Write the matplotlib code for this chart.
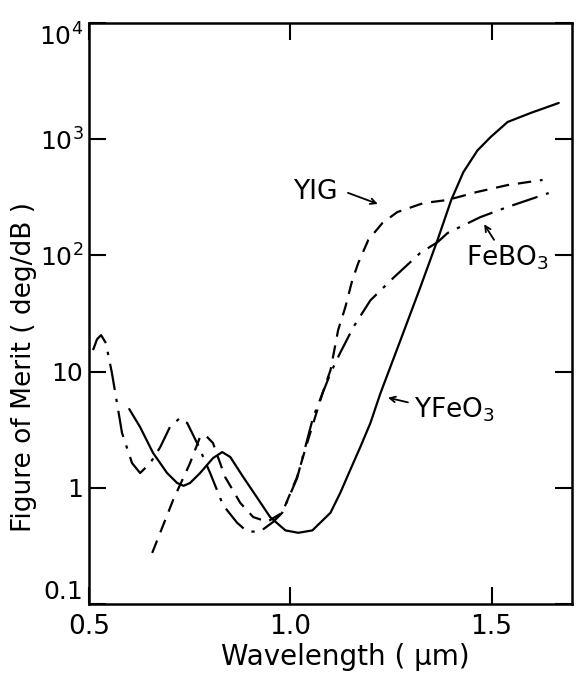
import numpy as np
import matplotlib
matplotlib.use("Agg")
import matplotlib.pyplot as plt

plt.rcParams['font.family'] = ['DejaVu Sans']
plt.rcParams['mathtext.default'] = 'regular'

# YFeO3 (solid)
yfeo3_x = [0.600, 0.627, 0.659, 0.694, 0.719, 0.735, 0.751, 0.776, 0.808, 0.831,
           0.851, 0.883, 0.918, 0.950, 0.988, 1.020, 1.055, 1.100, 1.124, 1.150,
           1.174, 1.199, 1.224, 1.274, 1.323, 1.366, 1.400, 1.430, 1.465, 1.498,
           1.540, 1.597, 1.667]
yfeo3_y = [4.76, 3.33, 2.00, 1.34, 1.10, 1.04, 1.10, 1.34, 1.80, 2.03,
           1.84, 1.24, 0.82, 0.56, 0.43, 0.41, 0.43, 0.61, 0.90, 1.45,
           2.24, 3.6, 6.5, 18.7, 53, 136, 300, 520, 800, 1045,
           1406, 1680, 2050]

# YIG (dashed)
yig_x = [0.657, 0.709, 0.751, 0.776, 0.789, 0.808, 0.838, 0.876, 0.908, 0.943,
         0.980, 1.017, 1.042, 1.080, 1.100, 1.119, 1.137, 1.154, 1.169, 1.194,
         1.229, 1.266, 1.331, 1.391, 1.465, 1.540, 1.627]
yig_y = [0.275, 0.785, 1.63, 2.74, 2.84, 2.43, 1.24, 0.74, 0.56, 0.51,
         0.61, 1.24, 2.43, 6.5, 10.3, 22.8, 36, 61, 86, 136,
         190, 236, 282, 300, 352, 403, 446]

# FeBO3 (dash-dot)
febo3_x = [0.510, 0.520, 0.530, 0.542, 0.557, 0.582, 0.607, 0.627, 0.652, 0.677,
           0.701, 0.726, 0.744, 0.771, 0.801, 0.833, 0.868, 0.893, 0.925, 0.958,
           0.980, 1.017, 1.057, 1.100, 1.124, 1.157, 1.199, 1.256, 1.323, 1.366,
           1.391, 1.473, 1.540, 1.642]
febo3_y = [15.3, 19.0, 20.6, 17.6, 9.7, 2.97, 1.63, 1.34, 1.63, 2.24,
           3.33, 3.99, 3.61, 2.33, 1.34, 0.71, 0.50, 0.42, 0.42, 0.51,
           0.61, 1.21, 4.06, 9.7, 14.5, 24.2, 41, 64, 105, 130,
           156, 214, 261, 344]

x_ticks = [0.5, 1.0, 1.5]
x_tick_labels = ['0.5', '1.0', '1.5']
y_ticks = [0.1, 1, 10, 100, 1000, 10000]
y_tick_labels = ['0.1', '1', '10', '$10^2$', '$10^3$', '$10^4$']

fig = plt.figure(figsize=(5.81, 6.82), dpi=100)
ax = fig.add_axes([89 / 581, 1 - 604 / 682, 483 / 581, 581 / 682])

lw = 1.6
ax.plot(yfeo3_x, yfeo3_y, color='black', lw=lw, solid_capstyle='round',
        solid_joinstyle='round')
ax.plot(yig_x, yig_y, color='black', lw=lw, dashes=(6, 4))
ax.plot(febo3_x, febo3_y, color='black', lw=lw, dashes=(12, 4, 1.5, 4))

ax.set_yscale('log')
ax.set_xlim(0.5, 1.70)
ax.set_ylim(0.1, 1e4)

ax.set_xticks(x_ticks)
ax.set_xticklabels(x_tick_labels, fontsize=19)
ax.set_yticks(y_ticks)
ax.set_yticklabels(y_tick_labels, fontsize=18)
ax.minorticks_off()
ax.tick_params(which='both', direction='in', length=12, width=1.5,
               top=True, right=True)
ax.tick_params(axis='y', pad=4)
ax.tick_params(axis='x', pad=7)
# corner labels: lift 0.1 above the x labels, keep 10^4 inside the figure
ylabels = ax.get_yticklabels()
ylabels[0].set_va('bottom')
ylabels[-1].set_va('top')

for sp in ax.spines.values():
    sp.set_linewidth(1.8)

ax.text(1.062, 352, 'YIG', fontsize=19, ha='center', va='center')
ax.annotate('', xy=(1.224, 272), xytext=(1.137, 352),
            arrowprops=dict(arrowstyle='->', lw=1.3, color='black'))

ax.text(1.540, 95, 'FeBO$_3$', fontsize=19, ha='center', va='center')
ax.annotate('', xy=(1.478, 194), xytext=(1.510, 130),
            arrowprops=dict(arrowstyle='->', lw=1.3, color='black'))

ax.text(1.408, 4.7, 'YFeO$_3$', fontsize=19, ha='center', va='center')
ax.annotate('', xy=(1.236, 6.04), xytext=(1.299, 5.37),
            arrowprops=dict(arrowstyle='->', lw=1.3, color='black'))

fig.text(24 / 581, 1 - 367 / 682, 'Figure of Merit ( deg/dB )', fontsize=19,
         rotation=90, ha='center', va='center')
fig.text(345 / 581, 1 - 657 / 682, 'Wavelength ( μm)', fontsize=20,
         ha='center', va='center')

fig.savefig('out.png', dpi=100)
